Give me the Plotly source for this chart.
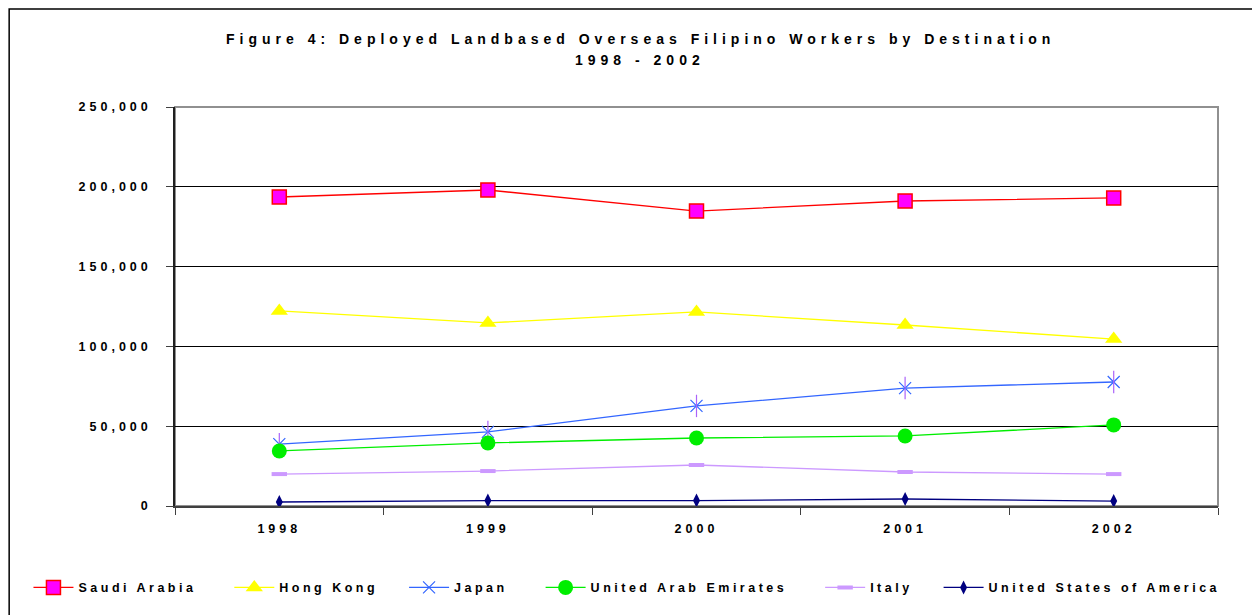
import plotly.graph_objects as go

years = ["1998", "1999", "2000", "2001", "2002"]
saudi_arabia = [193600, 198000, 184800, 191100, 193000]
hong_kong = [122200, 114700, 121600, 113400, 104600]
japan = [38800, 46400, 62700, 73900, 77700]
uae = [34500, 39500, 42600, 43900, 50800]
italy = [20000, 21900, 25700, 21300, 20000]
usa = [2500, 3400, 3400, 4400, 3100]
y_ticks = [0, 50000, 100000, 150000, 200000, 250000]


def spaced(s, px=4, pad=0):
    return '<span style="letter-spacing:%spx">%s%s</span>' % (px, s, "&nbsp;" * pad)


series = [
    ("Saudi Arabia", saudi_arabia, "#FF0000", 4,
     dict(symbol="square", size=14, color="#FF00FF", line=dict(color="#FF0000", width=1.5))),
    ("Hong Kong", hong_kong, "#FFFF00", 3,
     dict(symbol="triangle-up", size=15, color="#FFFF00", line=dict(width=0))),
    ("Japan", japan, "#3366FF", 4,
     dict(symbol="x-thin-open", size=12, color="#3366FF", line=dict(color="#3366FF", width=1.2))),
    ("United Arab Emirates", uae, "#00EE00", 4,
     dict(symbol="circle", size=15, color="#00EE00", line=dict(width=0))),
    ("Italy", italy, "#CC99FF", 3,
     dict(symbol="line-ew-open", size=11, color="#CC99FF", line=dict(color="#CC99FF", width=4))),
    ("United States of America", usa, "#000080", 0,
     dict(symbol="diamond-tall", size=10, color="#000080", line=dict(width=0))),
]

fig = go.Figure()
for name, vals, col, pad, mk in series:
    fig.add_trace(go.Scatter(x=years, y=vals, mode="lines+markers", name=spaced(name, 3.5, pad),
                             line=dict(color=col, width=1.3), marker=mk))
    if name == "Japan":
        # vertical stroke to complete the six-armed star marker
        fig.add_trace(go.Scatter(x=years, y=vals, mode="markers", showlegend=False,
                                 hoverinfo="skip",
                                 marker=dict(symbol="line-ns-open", size=16,
                                             line=dict(color=col, width=1.2))))

font = "Liberation Sans, Arial, sans-serif"
fig.update_layout(
    width=1252, height=607,
    margin=dict(l=167, r=42, t=99, b=109),
    paper_bgcolor="white", plot_bgcolor="white",
    font=dict(family=font, size=12.5, color="black", weight="bold"),
    showlegend=True,
    legend=dict(orientation="h", x=-0.1405, xanchor="left", y=-0.205, yanchor="middle",
                font=dict(size=12.5, family=font, weight="bold"), itemwidth=40,
                tracegroupgap=0),
    xaxis=dict(type="category", range=[-0.5, 4.5], tickvals=years,
               ticktext=[spaced(y) for y in years], showgrid=False,
               ticks="outside", tickson="boundaries", ticklen=7, tickcolor="#404040",
               showline=True, linecolor="#404040", linewidth=2, ticklabelstandoff=10),
    yaxis=dict(range=[0, 250000], tickvals=y_ticks,
               ticktext=[spaced(f"{v:,}") for v in y_ticks], showgrid=True,
               gridcolor="black", gridwidth=1, zeroline=False,
               ticks="outside", ticklen=7, tickcolor="#404040",
               showline=True, linecolor="#202020", linewidth=1.5, ticklabelstandoff=12),
    annotations=[
        dict(text=spaced("Figure 4: Deployed Landbased Overseas Filipino Workers by Destination", 5),
             xref="paper", yref="paper", x=0.446, y=1.1704, xanchor="center", yanchor="middle",
             showarrow=False, font=dict(size=14, family=font, weight="bold")),
        dict(text=spaced("1998 - 2002", 5),
             xref="paper", yref="paper", x=0.446, y=1.1178, xanchor="center", yanchor="middle",
             showarrow=False, font=dict(size=14, family=font, weight="bold")),
    ],
    shapes=[
        dict(type="rect", xref="paper", yref="paper", x0=0, x1=1, y0=0, y1=1,
             line=dict(color="#909090", width=2), layer="below"),
        dict(type="rect", xref="paper", yref="paper", x0=-0.159, x1=1.045, y0=-0.3, y1=1.2456,
             line=dict(color="black", width=1.5)),
    ],
)

fig.write_html("out.html")
